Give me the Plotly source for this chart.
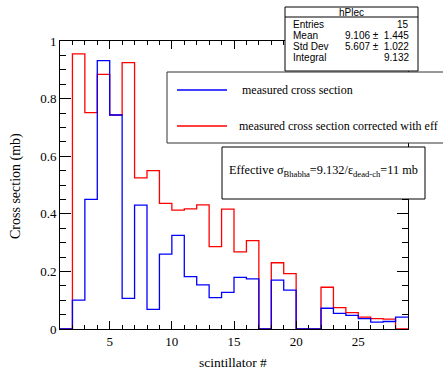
import plotly.graph_objects as go

# Histogram bin edges (scintillator #) and contents
bin_edges = list(range(1, 30))  # 1..29, 28 bins
measured = [0.0, 0.100, 0.450, 0.932, 0.743, 0.106, 0.430, 0.068, 0.260, 0.325,
            0.182, 0.153, 0.109, 0.127, 0.179, 0.174, 0.0, 0.170, 0.135, 0.0,
            0.0, 0.072, 0.054, 0.047, 0.036, 0.024, 0.026, 0.041]
corrected = [0.0, 0.955, 0.751, 0.884, 0.743, 0.925, 0.525, 0.550, 0.436, 0.413,
             0.417, 0.431, 0.286, 0.416, 0.268, 0.307, 0.0, 0.230, 0.192, 0.0,
             0.0, 0.145, 0.074, 0.057, 0.041, 0.036, 0.034, 0.0]

x_ticks = [5, 10, 15, 20, 25]
y_ticks = [0, 0.2, 0.4, 0.6, 0.8, 1]
y_tick_labels = ["0", "0.2", "0.4", "0.6", "0.8", "1"]

stats_title = "hPlec"
stats_labels = ["Entries", "Mean", "Std Dev", "Integral"]
stats_values = ["15", "9.106 \u00b1  1.445", "5.607 \u00b1  1.022", "9.132"]

legend_labels = ["measured cross section", "measured cross section corrected with eff"]

W, H = 443, 370
L, R, T, B = 60, 408, 41, 329


def px(xp):
    return (xp - L) / (R - L)


def py(yp):
    return (B - yp) / (B - T)


def steps(vals):
    return bin_edges, vals + [vals[-1]]


fig = go.Figure()
xs, ys = steps(corrected)
fig.add_trace(go.Scatter(x=xs, y=ys, mode="lines", line=dict(color="#ff0000", width=1.3, shape="hv"),
                         showlegend=False, hoverinfo="skip"))
xs, ys = steps(measured)
fig.add_trace(go.Scatter(x=xs, y=ys, mode="lines", line=dict(color="#0000ff", width=1.3, shape="hv"),
                         showlegend=False, hoverinfo="skip"))

serif = "Liberation Serif, Times New Roman, serif"
sans = "Liberation Sans, Arial, sans-serif"

axis_common = dict(showline=True, linecolor="black", linewidth=1, mirror="allticks",
                   ticks="inside", tickcolor="black", showgrid=False, zeroline=False,
                   tickfont=dict(family=serif, size=13, color="black"))

fig.update_layout(
    width=W, height=H,
    margin=dict(l=L, r=W - R, t=T, b=H - B, pad=0),
    paper_bgcolor="white", plot_bgcolor="white",
    xaxis=dict(range=[1, 29], tickvals=x_ticks, ticklen=8,
               minor=dict(ticks="inside", dtick=1, ticklen=4, tickcolor="black", showgrid=False),
               **axis_common),
    yaxis=dict(range=[0, 1], tickvals=y_ticks, ticktext=y_tick_labels, ticklen=11,
               minor=dict(ticks="inside", dtick=0.05, ticklen=6, tickcolor="black", showgrid=False),
               **axis_common),
)

shapes = []
annotations = []

# Stats box
shapes.append(dict(type="rect", xref="paper", yref="paper", x0=px(285), x1=px(418), y0=py(71), y1=py(7),
                   fillcolor="white", line=dict(color="black", width=1), layer="above"))
shapes.append(dict(type="line", xref="paper", yref="paper", x0=px(285), x1=px(418), y0=py(17), y1=py(17),
                   line=dict(color="black", width=1), layer="above"))
annotations.append(dict(xref="paper", yref="paper", x=px(351.5), y=py(12), text=stats_title, showarrow=False,
                        font=dict(family=sans, size=10, color="black"), xanchor="center", yanchor="middle"))
row_y = [24, 35, 46, 57]
for lab, val, yy in zip(stats_labels, stats_values, row_y):
    annotations.append(dict(xref="paper", yref="paper", x=px(291), y=py(yy), text=lab, showarrow=False,
                            font=dict(family=sans, size=10, color="black"), xanchor="left", yanchor="middle"))
    annotations.append(dict(xref="paper", yref="paper", x=px(411), y=py(yy), text=val, showarrow=False,
                            font=dict(family=sans, size=10, color="black"), xanchor="right", yanchor="middle"))

# Legend box
shapes.append(dict(type="rect", xref="paper", yref="paper", x0=px(167), x1=px(450), y0=py(143), y1=py(72),
                   fillcolor="white", line=dict(color="#333333", width=1), layer="above"))
leg_colors = ["#0000ff", "#ff0000"]
leg_y = [90, 126]
leg_tx = [240, 237]
for lab, c, yy, tx in zip(legend_labels, leg_colors, leg_y, leg_tx):
    shapes.append(dict(type="line", xref="paper", yref="paper", x0=px(177), x1=px(227), y0=py(yy), y1=py(yy),
                       line=dict(color=c, width=1.3), layer="above"))
    annotations.append(dict(xref="paper", yref="paper", x=px(tx), y=py(yy), text=lab, showarrow=False,
                            font=dict(family=serif, size=12, color="black"), xanchor="left", yanchor="middle"))

# Effective cross section box
shapes.append(dict(type="rect", xref="paper", yref="paper", x0=px(222), x1=px(425), y0=py(199), y1=py(147),
                   fillcolor="white", line=dict(color="black", width=1), layer="above"))
annotations.append(dict(xref="paper", yref="paper", x=px(323.5), y=py(171),
                        text="Effective \u03c3<sub>Bhabha</sub>=9.132/\u03b5<sub>dead-ch</sub>=11 mb",
                        showarrow=False, font=dict(family=serif, size=12.3, color="black"),
                        xanchor="center", yanchor="middle"))

# Axis titles
annotations.append(dict(xref="paper", yref="paper", x=px(233), y=py(362), text="scintillator #", showarrow=False,
                        font=dict(family=serif, size=13.5, color="black"), xanchor="center", yanchor="middle"))
annotations.append(dict(xref="paper", yref="paper", x=px(16), y=py(186), text="Cross section (mb)", showarrow=False,
                        textangle=-90, font=dict(family=serif, size=14, color="black"),
                        xanchor="center", yanchor="middle"))

fig.update_layout(shapes=shapes, annotations=annotations)
fig.write_html("out.html", config={"displayModeBar": False},
               post_script="document.body.style.margin='0px';document.body.style.overflow='hidden';")
